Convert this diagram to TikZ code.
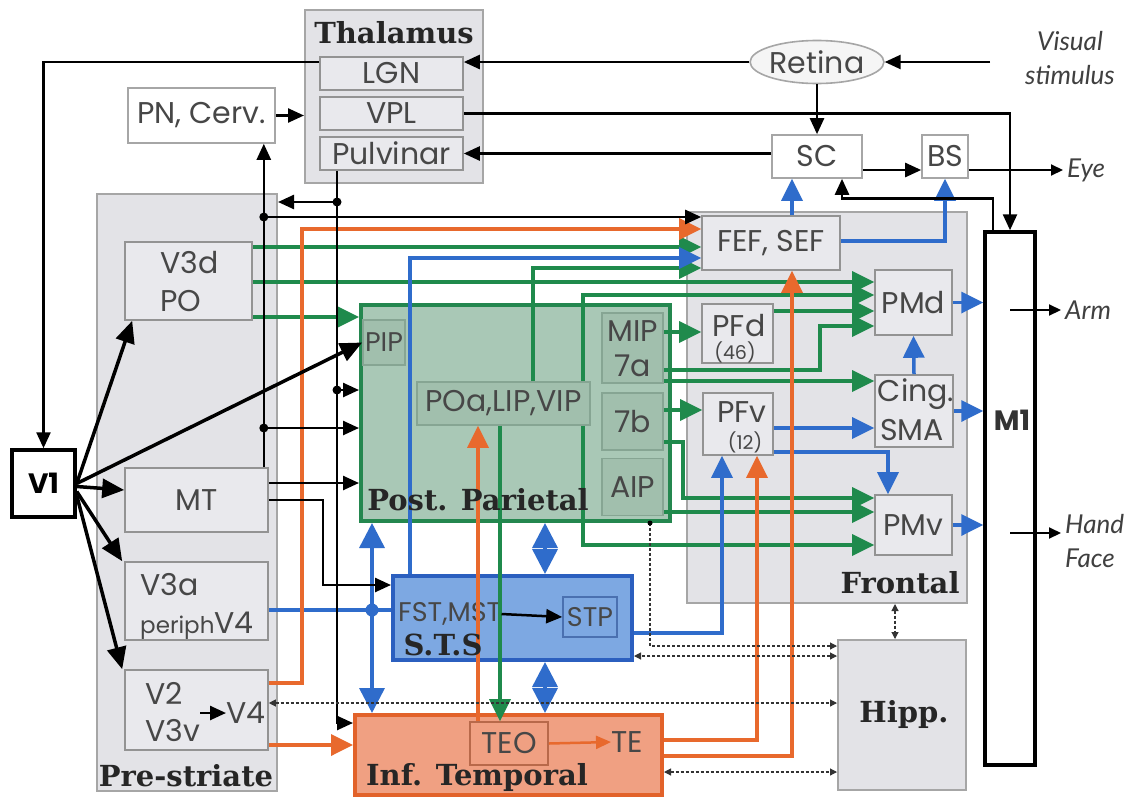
\documentclass[tikz,border=0pt]{standalone}
\usepackage{fontspec}
\usetikzlibrary{arrows.meta,calc,shapes.geometric}
\newfontfamily\fLab{Poppins}
\newfontfamily\fTtl{DejaVu Serif}
\newfontfamily\fItl{Lato}
\definecolor{grn}{HTML}{1F8A4C}
\definecolor{blu}{HTML}{2F6CCB}
\definecolor{org}{HTML}{E8692D}
\definecolor{contfill}{HTML}{E3E3E7}
\definecolor{contdraw}{HTML}{A6A6A6}
\definecolor{boxfill}{HTML}{E9E9ED}
\definecolor{boxdraw}{HTML}{939393}
\definecolor{ppfill}{HTML}{A9C8B6}
\definecolor{ppdraw}{HTML}{24874F}
\definecolor{ppinfill}{HTML}{A1BFAD}
\definecolor{ppindraw}{HTML}{86A593}
\definecolor{stsfill}{HTML}{7DA8E2}
\definecolor{stsdraw}{HTML}{2B5FBF}
\definecolor{stpdraw}{HTML}{4A70B0}
\definecolor{itfill}{HTML}{F0A082}
\definecolor{itdraw}{HTML}{E2622A}
\definecolor{teodraw}{HTML}{B8694A}
\definecolor{txtc}{HTML}{474747}
\begin{document}
\begin{tikzpicture}[x=1pt,y=-1pt,
  cont/.style={draw=contdraw, fill=contfill, line width=2pt, inner sep=0pt},
  box/.style={draw=boxdraw, fill=boxfill, line width=1.6pt, inner sep=0pt, font=\fLab\fontsize{30}{32}\selectfont, text=txtc, align=center},
  wbox/.style={box, fill=white, draw=contdraw},
  ppin/.style={box, fill=ppinfill, draw=ppindraw},
  ppbox/.style={draw=ppdraw, fill=ppfill, line width=4pt, inner sep=0pt},
  stsbox/.style={draw=stsdraw, fill=stsfill, line width=4pt, inner sep=0pt},
  itbox/.style={draw=itdraw, fill=itfill, line width=4pt, inner sep=0pt},
  blkbox/.style={draw=black, fill=white, line width=3.5pt, inner sep=0pt},
  lbl/.style={inner sep=0pt, font=\fLab\fontsize{30}{32}\selectfont, text=txtc},
  sml/.style={inner sep=0pt, font=\fLab\fontsize{19}{20}\selectfont, text=txtc},
  ttl/.style={inner sep=0pt, font=\fTtl\bfseries\fontsize{29}{30}\selectfont, text=black!85},
  itl/.style={inner sep=0pt, font=\fItl\itshape\fontsize{26}{34}\selectfont, text=black!75},
  bl/.style={draw=black, line width=2.5pt, -{Triangle[length=16pt,width=14pt]}},
  bl2/.style={draw=black, line width=2pt, -{Triangle[length=12pt,width=11pt]}},
  v1a/.style={draw=black, line width=3.5pt, -{Triangle[length=22pt,width=19pt]}},
  gr/.style={draw=grn, line width=3.5pt, -{Triangle[length=22pt,width=21pt]}},
  bu/.style={draw=blu, line width=3.5pt, -{Triangle[length=22pt,width=21pt]}},
  bud/.style={draw=blu, line width=3.5pt, {Triangle[length=25pt,width=25pt]}-{Triangle[length=25pt,width=25pt]}},
  or/.style={draw=org, line width=3.5pt, -{Triangle[length=22pt,width=21pt]}},
  dt/.style={draw=black!80, line width=1.1pt, dash pattern=on 3pt off 2pt, {Triangle[length=7pt,width=7pt]}-{Triangle[length=7pt,width=7pt]}}
]
\useasboundingbox (0,0) rectangle (1134,798);
\fill[white] (0,0) rectangle (1134,798);

% ---------- containers ----------
\node[cont, minimum width=178pt, minimum height=173pt] (Thal) at (394,96.5) {};
\node[cont, minimum width=180pt, minimum height=597pt] (Pre) at (187,492) {};
\node[cont, minimum width=280pt, minimum height=391pt] (Front) at (827,407.5) {};
\node[cont, minimum width=128pt, minimum height=150pt] (Hipp) at (902,715) {};
\node[ppbox, minimum width=309pt, minimum height=216pt] (PP) at (515.5,413) {};
\node[stsbox, minimum width=239pt, minimum height=84pt] (STS) at (512.5,618) {};
\node[itbox, minimum width=307pt, minimum height=80pt] (IT) at (508.5,755) {};
\node[blkbox, minimum width=50pt, minimum height=533pt] (M1) at (1010,498.5) {};
\node[blkbox, minimum width=63pt, minimum height=67pt, font=\fLab\bfseries\fontsize{28}{30}\selectfont] (V1) at (43.5,483.5) {V1};

% ---------- inner boxes ----------
\node[box, minimum width=143pt, minimum height=33pt] (LGN) at (391.5,73.5) {LGN};
\node[box, minimum width=143pt, minimum height=33pt] (VPL) at (391.5,113.5) {VPL};
\node[box, minimum width=143pt, minimum height=33pt] (Pulv) at (391.5,153.5) {Pulvinar};
\node[wbox, minimum width=147pt, minimum height=55pt] (PN) at (201.5,115.5) {PN, Cerv.};
\node[wbox, minimum width=90pt, minimum height=43pt] (SC) at (817,156.5) {SC};
\node[wbox, minimum width=46pt, minimum height=43pt] (BS) at (945,156.5) {BS};
\node[box, ellipse, fill=black!4, draw=contdraw, minimum width=115pt, minimum height=43pt] (Retina) at (817,62) {Retina};
\node[box, minimum width=127pt, minimum height=78pt] (V3d) at (188.5,281) {};
\node[box, minimum width=143pt, minimum height=64pt] (MT) at (196.5,500) {MT};
\node[box, minimum width=143pt, minimum height=78pt] (V3a) at (196.5,601) {};
\node[box, minimum width=143pt, minimum height=80pt] (V2) at (196.5,710) {};
\node[box, minimum width=138pt, minimum height=54pt] (FEF) at (771,243) {FEF, SEF};
\node[box, minimum width=77pt, minimum height=65pt] (PMd) at (913.5,302.5) {PMd};
\node[box, minimum width=71pt, minimum height=59pt] (PFd) at (737.5,333.5) {};
\node[box, minimum width=78pt, minimum height=72pt] (Cing) at (914,411) {};
\node[box, minimum width=70pt, minimum height=62pt] (PFv) at (738,424) {};
\node[box, minimum width=77pt, minimum height=60pt] (PMv) at (913.5,525) {PMv};
\node[ppin, minimum width=42pt, minimum height=45pt, font=\fLab\fontsize{27}{28}\selectfont] (PIP) at (384,342.5) {PIP};
\node[ppin, minimum width=173pt, minimum height=43pt] (POa) at (503.5,403.5) {POa,LIP,VIP};
\node[ppin, minimum width=61pt, minimum height=70pt] (MIP) at (632.5,348) {};
\node[ppin, minimum width=61pt, minimum height=57pt] (b7) at (632.5,421.5) {7b};
\node[ppin, minimum width=61pt, minimum height=57pt] (AIP) at (632.5,487) {AIP};
\node[box, fill=stsfill, draw=stpdraw, minimum width=54pt, minimum height=40pt, font=\fLab\fontsize{27}{28}\selectfont] (STP) at (590,617) {STP};
\node[box, fill=itfill, draw=teodraw, minimum width=78pt, minimum height=43pt] (TEO) at (509,743.5) {TEO};

% ---------- texts inside boxes ----------
\node[lbl, anchor=west] at (160,263) {V3d};
\node[lbl, anchor=west] at (160,301) {PO};
\node[lbl, anchor=west] at (140,585) {V3a};
\node[lbl, anchor=west] at (140,626) {{\fontsize{23}{24}\selectfont periph}V4};
\node[lbl, anchor=west] (v2t) at (145,693) {V2};
\node[lbl, anchor=west] (v3vt) at (145,731) {V3v};
\node[lbl, anchor=west] (v4t) at (226,713) {V4};
\node[lbl] at (739,326) {PFd};
\node[sml] at (735,352) {(46)};
\node[lbl] at (742,412) {PFv};
\node[sml] at (745,442) {(12)};
\node[lbl] at (916,394) {Cing.};
\node[lbl] at (912,430) {SMA};
\node[lbl] at (632.5,331) {MIP};
\node[lbl] at (632.5,366) {7a};
\node[lbl, anchor=west, font=\fLab\fontsize{27}{28}\selectfont] (fst) at (398,614) {FST,MST};
\node[lbl] (te) at (627,742) {TE};

% outside labels
\node[itl, align=center] (vst) at (1070,58) {Visual\\stimulus};
\node[itl, anchor=west] (eye) at (1067,170) {Eye};
\node[itl, anchor=west] (arm) at (1065,310) {Arm};
\node[itl, anchor=west, align=left] (hf) at (1065,541) {Hand\\Face};

% ---------- level coordinates ----------
\coordinate (vs) at (990,62);
\coordinate (y202) at (0,202);
\coordinate (y217) at (0,217);
\coordinate (y229) at (0,229);
\coordinate (y241) at (0,241);
\coordinate (y247) at (0,247);
\coordinate (y258) at (0,258);
\coordinate (y268) at (0,268);
\coordinate (y282) at (0,282);
\coordinate (y295) at (0,295);
\coordinate (y311) at (0,311);
\coordinate (y317) at (0,317);
\coordinate (y326) at (0,326);
\coordinate (y332) at (0,332);
\coordinate (y370) at (0,370);
\coordinate (y381) at (0,381);
\coordinate (y390) at (0,390);
\coordinate (y410) at (0,410);
\coordinate (y428) at (0,428);
\coordinate (y442) at (0,442);
\coordinate (y452) at (0,452);
\coordinate (y498) at (0,498);
\coordinate (y512) at (0,512);
\coordinate (y545) at (0,545);
\coordinate (y610) at (0,610);
\coordinate (y633) at (0,633);
\coordinate (y646) at (0,646);
\coordinate (y656) at (0,656);
\coordinate (y683) at (0,683);
\coordinate (y703) at (0,703);
\coordinate (y740) at (0,740);
\coordinate (y745) at (0,745);
\coordinate (y756) at (0,756);
\coordinate (y772) at (0,772);
\coordinate (x302) at (302,0);
\coordinate (x372) at (372,0);
\coordinate (x410) at (410,0);
\coordinate (x478) at (478,0);
\coordinate (x500) at (500,0);
\coordinate (x533) at (533,0);
\coordinate (x545) at (545,0);
\coordinate (x583) at (583,0);
\coordinate (x650) at (650,0);
\coordinate (x683) at (683,0);
\coordinate (x722) at (722,0);
\coordinate (x757) at (757,0);
\coordinate (x792) at (792,0);
\coordinate (x820) at (820,0);
\coordinate (x888) at (888,0);
\coordinate (x895) at (895,0);
\coordinate (MTtop) at ([xshift=-5pt]MT.north east);
\coordinate (pv) at ([xshift=-54.5pt]Pulv.south);

% ---------- green ----------
\draw[gr] (V3d.east |- y247) -- (FEF.west |- y247);
\draw[gr] (V3d.east |- y282) -- (PMd.west |- y282);
\draw[gr] (V3d.east |- y317) -- (PP.west |- y317);
\draw[gr] (POa.north -| x533) |- (FEF.west |- y268);
\draw[gr] (POa.north -| x583) |- (PMd.west |- y295);
\draw[gr] (POa.south -| x583) |- (PMv.west |- y545);
\draw[gr] (MIP.east |- y332) -- (PFd.west |- y332);
\draw[gr] (PFd.east |- y311) -- (PMd.west |- y311);
\draw[gr] (MIP.east |- y370) -- (x820 |- y370) |- (PMd.west |- y326);
\draw[gr] (MIP.east |- y381) -- (Cing.west |- y381);
\draw[gr] (b7.east |- y410) -- (PFv.west |- y410);
\draw[gr] (b7.east |- y442) -- (x683 |- y442) |- (PMv.west |- y498);
\draw[gr] (AIP.east |- y512) -- (PMv.west |- y512);
\draw[gr] (POa.south -| x500) -- (TEO.north -| x500);

% ---------- blue ----------
\draw[bu] (STS.north -| x410) |- (FEF.west |- y258);
\draw[bu] (STS.east |- y633) -| (PFv.south -| x722);
\draw[bu] (PFv.east |- y428) -- (Cing.west |- y428);
\draw[bu] (PFv.east |- y452) -| (PMv.north -| x888);
\draw[bu] (PMd.east) -- (PMd.east -| M1.west);
\draw[bu] (Cing.north) -- (PMd.south);
\draw[bu] (Cing.east) -- (Cing.east -| M1.west);
\draw[bu] (PMv.east) -- (PMv.east -| M1.west);
\draw[bu] (FEF.north -| x792) -- (SC.south -| x792);
\draw[bu] (FEF.east |- y241) -| (BS.south);
\draw[bu, -] (V3a.east |- y610) -- (STS.west |- y610);
\fill[blu] (x372 |- y610) circle (6.5pt);
\draw[bud] (PP.south -| x372) -- (IT.north -| x372);
\draw[bud] (PP.south -| x545) -- (STS.north -| x545);
\draw[bud] (STS.south -| x545) -- (IT.north -| x545);

% ---------- orange ----------
\draw[or] (V2.east |- y683) -- (x302 |- y683) |- (FEF.west |- y229);
\draw[or] (V2.east |- y745) -- (IT.west |- y745);
\draw[or] (TEO.north -| x478) -- (POa.south -| x478);
\draw[draw=org, line width=2.5pt, -{Triangle[length=15pt,width=13pt]}] (TEO.east) -- (te.west);
\draw[or] (IT.east |- y740) -| (PFv.south -| x757);
\draw[or] (IT.east |- y756) -| (FEF.south -| x792);

% ---------- black ----------
\draw[bl] (LGN.west |- Retina.west) -| (V1.north);
\draw[bl] (Retina.west) -- (Retina.west -| LGN.east);
\draw[bl] (vs) -- (Retina.east);
\draw[bl] (Retina.south) -- (SC.north);
\draw[bl] (SC.east |- eye.west) -- (BS.west |- eye.west);
\draw[bl2] (BS.east |- eye.west) -- ([xshift=-4pt]eye.west);
\draw[bl] (VPL.east) -| (M1.north);
\draw[bl] (SC.west |- Pulv.east) -- (Pulv.east);
\draw[bl] ([xshift=-17pt]M1.north) -- ++(0,-32) -| ([xshift=25pt]SC.south);
\draw[bl] (PN.east) -- (Thal.west |- PN.east);
\draw[bl] (MTtop) -- (MTtop |- PN.south);
\draw[bl] (MTtop |- y217) -- (FEF.west |- y217);
\fill (MTtop |- y217) circle (4.5pt);
\draw[bl] (MTtop |- y428) -- (PP.west |- y428);
\fill (MTtop |- y428) circle (4.5pt);
\draw[bl] (pv) |- ([yshift=32pt]IT.west);
\draw[bl] (pv |- y202) -- (Pre.east |- y202);
\fill (pv |- y202) circle (4.5pt);
\draw[bl] (pv |- y390) -- (PP.west |- y390);
\fill (pv |- y390) circle (4.5pt);
\draw[bl] ([yshift=17pt]MT.east) -- ([yshift=17pt]MT.east -| PP.west);
\draw[bl] (MT.east) -- ++(54,0) |- ([yshift=33pt]STS.west);
\draw[bl] (fst.east) -- (STP.west);
\draw[bl] (v3vt.east |- v4t.west) -- (v4t.west);

% V1 arrows
\draw[v1a] (V1.east) -- ([xshift=8pt]V3d.south west);
\draw[v1a] (V1.east) -- (PIP.west);
\draw[v1a] ([yshift=-3pt]V1.east) -- ([yshift=10pt]MT.west);
\draw[v1a] ([yshift=-8pt]V1.east) -- ([xshift=-2pt]V3a.north west);
\draw[v1a] ([yshift=-12pt]V1.east) -- ([xshift=-2pt]V2.north west);

% M1 outputs
\draw[bl2] (M1.center |- arm.west) -- ([xshift=-4pt]arm.west);
\coordinate (hfa) at ([xshift=-4pt,yshift=8pt]hf.west);
\draw[bl2] (M1.center |- hfa) -- (hfa);

% dotted links
\draw[dt] (Front.south -| x895) -- (Hipp.north -| x895);
\draw[dt, -{Triangle[length=7pt,width=7pt]}] (PP.south -| x650) |- (Hipp.west |- y646);
\fill (PP.south -| x650) circle (2.5pt);
\draw[dt] (Hipp.west |- y656) -- (STS.east |- y656);
\draw[dt] (V2.east |- y703) -- (Hipp.west |- y703);
\draw[dt] (IT.east |- y772) -- (Hipp.west |- y772);

% ---------- titles ----------
\node[ttl] at (394,33) {Thalamus};
\node[ttl] at (478,500) {Post. Parietal};
\node[ttl] at (186,776) {Pre-striate};
\node[ttl] at (900,583) {Frontal};
\node[ttl] at (477,777) {Inf. Temporal};
\node[ttl] at (904,714) {Hipp.};
\node[ttl] at (443,645) {S.T.S};
\node[inner sep=0pt, font=\fLab\bfseries\fontsize{28}{30}\selectfont, text=black!80] at (1012,420) {M1};
\end{tikzpicture}
\end{document}
